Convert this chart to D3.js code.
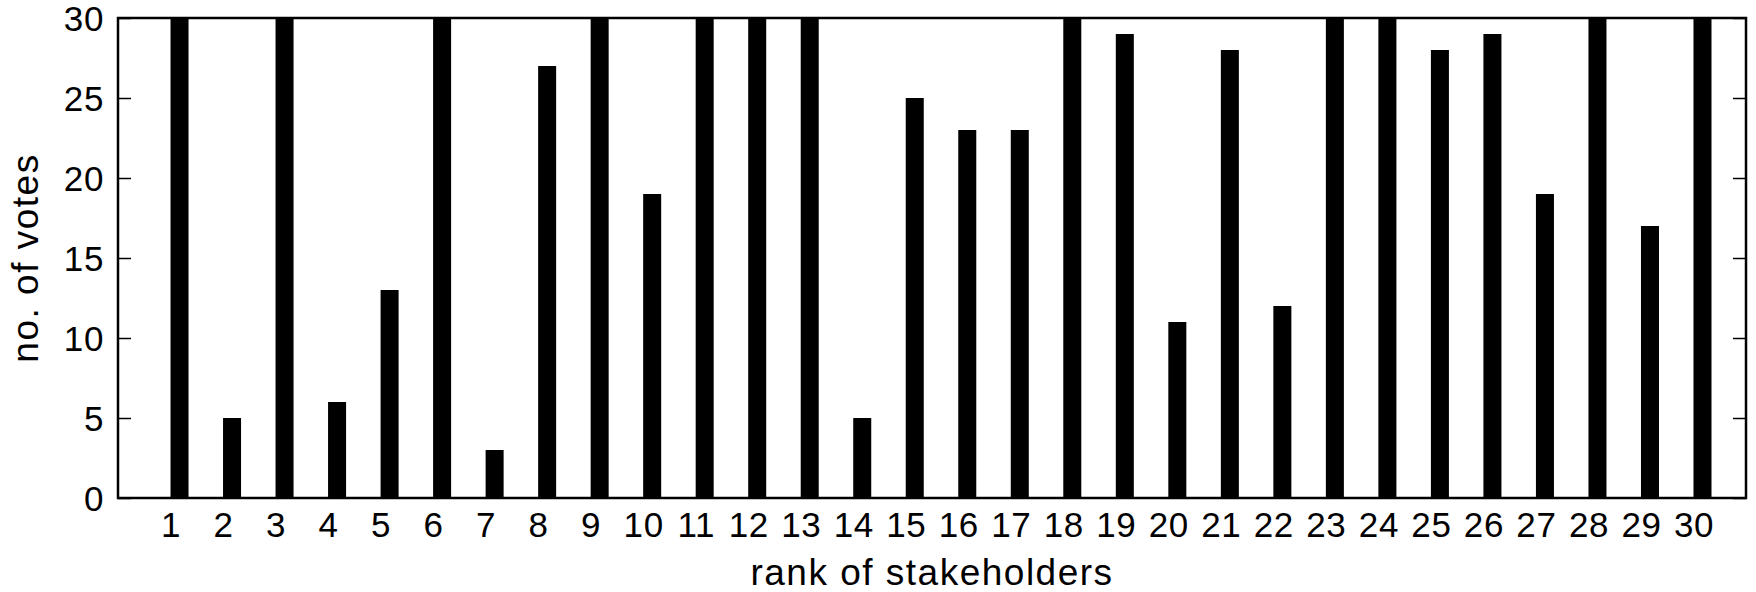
<!DOCTYPE html>
<html><head><meta charset="utf-8">
<script src="https://cdn.jsdelivr.net/npm/d3@7"></script>
<style>html,body{margin:0;padding:0;background:#fff;}svg{display:block;}</style>
</head><body>
<script>
const categories = [1,2,3,4,5,6,7,8,9,10,11,12,13,14,15,16,17,18,19,20,21,22,23,24,25,26,27,28,29,30];
const votes = [30,5,30,6,13,30,3,27,30,19,30,30,30,5,25,23,23,30,29,11,28,12,30,30,28,29,19,30,17,30];
const yTicks = [0,5,10,15,20,25,30];
const xLabel = "rank of stakeholders";
const yLabel = "no. of votes";

const W = 1756, H = 592;
const m = {left:118, right:1746, top:18, bottom:498};
const font = "'Liberation Sans', Arial, Helvetica, sans-serif";
const fs = 35;
const tfs = 37;

const svg = d3.select("body").append("svg").attr("width", W).attr("height", H);
const x = d3.scaleLinear().domain([0,31]).range([m.left, m.right]);
const y = d3.scaleLinear().domain([0,30]).range([m.bottom, m.top]);
const barW = x(0.343) - x(0);

svg.append("defs").append("clipPath").attr("id","c").append("rect")
  .attr("x", m.left).attr("y", m.top).attr("width", m.right-m.left).attr("height", m.bottom-m.top);

svg.append("g").attr("clip-path","url(#c)").selectAll("rect").data(categories).join("rect")
  .attr("x", (d)=>x(d))
  .attr("width", barW)
  .attr("y", (d,i)=>y(votes[i]))
  .attr("height", (d,i)=>y(0)-y(votes[i]))
  .attr("fill", "#000");

// Y axis left (ticks inward)
const yAxisL = d3.axisLeft(y).tickValues(yTicks).tickSize(-13);
const gl = svg.append("g").attr("transform", `translate(${m.left},0)`).call(yAxisL);
gl.select(".domain").remove();
gl.selectAll("line").attr("stroke","#000").attr("stroke-width",1.5);
gl.selectAll("text").attr("font-family", font).attr("font-size", fs).attr("fill","#000")
  .attr("letter-spacing", 0.6).attr("dy","0.36em").attr("x", -14);

// Y axis right (mirror ticks)
const yAxisR = d3.axisRight(y).tickValues(yTicks).tickSize(-13).tickFormat("");
const gr = svg.append("g").attr("transform", `translate(${m.right},0)`).call(yAxisR);
gr.select(".domain").remove();
gr.selectAll("line").attr("stroke","#000").attr("stroke-width",1.5);

// X axis labels
const xAxis = d3.axisBottom(x).tickValues(categories).tickSize(0).tickPadding(14);
const gx = svg.append("g").attr("transform", `translate(0,${m.bottom})`).call(xAxis);
gx.select(".domain").remove();
gx.selectAll("text").attr("font-family", font).attr("font-size", fs).attr("fill","#000")
  .attr("letter-spacing", 0.6);

// frame
svg.append("rect").attr("x", m.left).attr("y", m.top)
  .attr("width", m.right-m.left).attr("height", m.bottom-m.top)
  .attr("fill","none").attr("stroke","#000").attr("stroke-width",2.5);

svg.append("text").attr("x", (m.left+m.right)/2).attr("y", 585)
  .attr("text-anchor","middle").attr("font-family", font).attr("font-size", tfs)
  .attr("letter-spacing", 1.5).text(xLabel);
svg.append("text").attr("transform", `translate(38,${(m.top+m.bottom)/2}) rotate(-90)`)
  .attr("text-anchor","middle").attr("font-family", font).attr("font-size", tfs)
  .attr("letter-spacing", 1.5).text(yLabel);
</script>
</body></html>
